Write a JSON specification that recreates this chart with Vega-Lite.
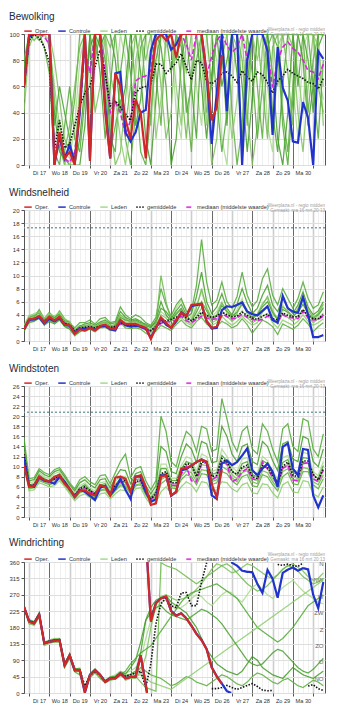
{
"$schema":"https://vega.github.io/schema/vega-lite/v6.json",
"padding":{"left":8,"top":11,"right":5,"bottom":5},
"bounds":"flush",
"config":{"font":"Liberation Sans","view":{"stroke":"#555","strokeWidth":1},
"axis":{"labelFont":"Liberation Sans","labelColor":"#333","tickColor":"#555","domainColor":"#555","tickSize":3,"labelPadding":2,"tickCount":100,"labelOverlap":false},
"axisX":{"labelFontSize":5.6},"axisY":{"labelFontSize":6,"format":"d"},
"legend":{"symbolType":"stroke","symbolSize":56,"symbolStrokeWidth":1.8,"labelFontSize":5.7,"labelColor":"#333","columnPadding":5,"labelOffset":2,"padding":0,"labelFont":"Liberation Sans"},
"title":{"anchor":"start","frame":"group","dx":-15,"fontSize":10,"fontWeight":"normal","color":"#1c2a3a","offset":0,"font":"Liberation Sans"}},
"spacing":45,
"resolve":{"scale":{"color":"independent","strokeDash":"independent","x":"independent","y":"independent"},"legend":{"color":"independent","strokeDash":"independent"}},
"datasets":{
"bw":[
{"t":-6,"o":60,"c":60,"g":59,"d":60,"A":55,"B":70,"C":60,"D":40,"E":75,"F":50,"G":65,"H":80},
{"t":0,"o":100,"c":98,"g":95,"d":97,"A":100,"B":95,"C":100,"D":90,"E":100,"F":100,"G":100,"H":100},
{"t":6,"o":100,"c":100,"g":100,"d":100,"A":100,"B":100,"C":100,"D":100,"E":100,"F":100,"G":100,"H":95},
{"t":12,"o":100,"c":100,"g":97,"d":100,"A":100,"B":100,"C":100,"D":100,"E":95,"F":100,"G":100,"H":100},
{"t":18,"o":100,"c":100,"g":90,"d":98,"A":100,"B":90,"C":100,"D":100,"E":100,"F":100,"G":100,"H":100},
{"t":24,"o":100,"c":100,"g":78,"d":92,"A":95,"B":70,"C":100,"D":100,"E":100,"F":90,"G":100,"H":100},
{"t":30,"o":0,"c":0,"g":12,"d":10,"A":20,"B":5,"C":40,"D":80,"E":10,"F":60,"G":30,"H":50},
{"t":36,"o":25,"c":22,"g":34,"d":20,"A":35,"B":15,"C":10,"D":50,"E":0,"F":30,"G":60,"H":20},
{"t":42,"o":5,"c":5,"g":13,"d":5,"A":10,"B":0,"C":5,"D":20,"E":30,"F":0,"G":40,"H":10},
{"t":48,"o":10,"c":15,"g":16,"d":2,"A":5,"B":20,"C":0,"D":10,"E":60,"F":0,"G":20,"H":30},
{"t":54,"o":0,"c":2,"g":30,"d":10,"A":30,"B":50,"C":0,"D":5,"E":20,"F":10,"G":0,"H":60},
{"t":60,"o":45,"c":40,"g":45,"d":40,"A":80,"B":100,"C":20,"D":40,"E":10,"F":60,"G":0,"H":90},
{"t":66,"o":100,"c":100,"g":55,"d":90,"A":100,"B":100,"C":60,"D":100,"E":50,"F":90,"G":30,"H":100},
{"t":72,"o":3,"c":5,"g":60,"d":70,"A":60,"B":100,"C":90,"D":100,"E":100,"F":40,"G":100,"H":100},
{"t":78,"o":100,"c":100,"g":75,"d":100,"A":100,"B":80,"C":100,"D":40,"E":100,"F":100,"G":100,"H":100},
{"t":84,"o":100,"c":100,"g":88,"d":100,"A":100,"B":100,"C":90,"D":60,"E":100,"F":100,"G":70,"H":100},
{"t":90,"o":40,"c":45,"g":70,"d":70,"A":90,"B":60,"C":100,"D":100,"E":80,"F":100,"G":20,"H":100},
{"t":96,"o":5,"c":5,"g":45,"d":40,"A":40,"B":10,"C":100,"D":30,"E":20,"F":70,"G":60,"H":90},
{"t":102,"o":70,"c":70,"g":49,"d":48,"A":60,"B":30,"C":80,"D":0,"E":10,"F":50,"G":100,"H":100},
{"t":108,"o":60,"c":71,"g":44,"d":40,"A":100,"B":50,"C":40,"D":10,"E":70,"F":20,"G":100,"H":60},
{"t":114,"o":35,"c":25,"g":39,"d":23,"A":80,"B":20,"C":60,"D":50,"E":100,"F":0,"G":100,"H":30},
{"t":120,"o":20,"c":18,"g":34,"d":34,"A":30,"B":0,"C":100,"D":90,"E":100,"F":30,"G":70,"H":60},
{"t":126,"o":50,"c":25,"g":55,"d":64,"A":70,"B":40,"C":100,"D":100,"E":60,"F":80,"G":30,"H":100},
{"t":132,"o":40,"c":40,"g":59,"d":67,"A":100,"B":90,"C":70,"D":100,"E":10,"F":100,"G":50,"H":100},
{"t":138,"o":5,"c":42,"g":60,"d":68,"A":100,"B":100,"C":20,"D":80,"E":0,"F":100,"G":100,"H":60},
{"t":144,"o":65,"c":87,"g":62,"d":72,"A":60,"B":100,"C":0,"D":100,"E":40,"F":100,"G":100,"H":30},
{"t":150,"o":95,"c":100,"g":77,"d":100,"A":100,"B":70,"C":50,"D":100,"E":80,"F":20,"G":100,"H":100},
{"t":156,"o":100,"c":100,"g":77,"d":100,"A":100,"B":30,"C":100,"D":60,"E":100,"F":50,"G":90,"H":100},
{"t":162,"o":95,"c":100,"g":70,"d":96,"A":90,"B":100,"C":100,"D":20,"E":100,"F":100,"G":60,"H":100},
{"t":168,"o":100,"c":88,"g":74,"d":100,"A":100,"B":100,"C":100,"D":40,"E":70,"F":100,"G":0,"H":100},
{"t":174,"o":82,"c":92,"g":78,"d":100,"A":40,"B":100,"C":80,"D":100,"E":100,"F":60,"G":20,"H":100},
{"t":180,"o":100,"c":100,"g":85,"d":100,"A":20,"B":90,"C":100,"D":100,"E":100,"F":30,"G":80,"H":60},
{"t":186,"o":100,"c":100,"g":75,"d":92,"A":100,"B":50,"C":100,"D":70,"E":40,"F":100,"G":100,"H":20},
{"t":192,"o":100,"c":100,"g":65,"d":80,"A":100,"B":10,"C":100,"D":100,"E":60,"F":100,"G":60,"H":70},
{"t":198,"o":100,"c":100,"g":80,"d":100,"A":60,"B":80,"C":100,"D":100,"E":100,"F":100,"G":20,"H":100},
{"t":204,"o":100,"c":100,"g":78,"d":100,"A":30,"B":100,"C":60,"D":100,"E":100,"F":80,"G":100,"H":100},
{"t":210,"o":70,"c":70,"g":64,"d":68,"A":100,"B":100,"C":20,"D":60,"E":100,"F":30,"G":100,"H":40},
{"t":216,"o":34,"c":16,"g":62,"d":83,"A":100,"B":60,"C":70,"D":0,"E":100,"F":100,"G":100,"H":60},
{"t":222,"o":44,"c":55,"g":65,"d":95,"A":80,"B":100,"C":100,"D":20,"E":50,"F":100,"G":100,"H":100},
{"t":228,"o":84,"c":100,"g":70,"d":100,"A":20,"B":100,"C":90,"D":80,"E":10,"F":100,"G":60,"H":100},
{"t":234,"c":41,"g":71,"d":91,"A":0,"B":100,"C":30,"D":100,"E":40,"F":60,"G":80,"H":100},
{"t":240,"c":100,"g":68,"d":86,"A":60,"B":40,"C":100,"D":100,"E":100,"F":20,"G":100,"H":100},
{"t":246,"c":100,"g":63,"d":90,"A":100,"B":0,"C":100,"D":90,"E":100,"F":50,"G":70,"H":100},
{"t":252,"c":0,"g":72,"d":100,"A":100,"B":30,"C":60,"D":100,"E":100,"F":100,"G":20,"H":80},
{"t":258,"c":80,"g":67,"d":80,"A":90,"B":100,"C":10,"D":40,"E":100,"F":100,"G":60,"H":30},
{"t":264,"c":100,"g":64,"d":100,"A":40,"B":100,"C":50,"D":0,"E":70,"F":100,"G":100,"H":100},
{"t":270,"c":100,"g":71,"d":100,"A":100,"B":60,"C":100,"D":30,"E":20,"F":80,"G":100,"H":100},
{"t":276,"c":100,"g":69,"d":100,"A":100,"B":20,"C":100,"D":90,"E":60,"F":100,"G":100,"H":60},
{"t":282,"c":87,"g":63,"d":87,"A":30,"B":90,"C":100,"D":100,"E":100,"F":60,"G":100,"H":20},
{"t":288,"c":23,"g":55,"d":59,"A":10,"B":100,"C":70,"D":100,"E":100,"F":30,"G":40,"H":90},
{"t":294,"c":90,"g":64,"d":80,"A":80,"B":100,"C":20,"D":60,"E":90,"F":90,"G":10,"H":100},
{"t":300,"c":59,"g":68,"d":90,"A":100,"B":40,"C":0,"D":100,"E":30,"F":100,"G":60,"H":100},
{"t":306,"c":49,"g":73,"d":94,"A":100,"B":10,"C":40,"D":100,"E":0,"F":100,"G":100,"H":70},
{"t":312,"c":18,"g":70,"d":89,"A":60,"B":60,"C":100,"D":90,"E":50,"F":100,"G":100,"H":30},
{"t":318,"c":17,"g":68,"d":86,"A":20,"B":100,"C":100,"D":40,"E":100,"F":70,"G":60,"H":100},
{"t":324,"c":48,"g":66,"d":80,"A":90,"B":100,"C":80,"D":10,"E":100,"F":40,"G":100,"H":100},
{"t":330,"c":36,"g":63,"d":72,"A":100,"B":40,"C":30,"D":60,"E":100,"F":100,"G":80,"H":100},
{"t":336,"c":0,"g":62,"d":71,"A":100,"B":80,"C":60,"D":100,"E":60,"F":100,"G":40,"H":100},
{"t":342,"c":87,"g":58,"d":66,"A":70,"B":100,"C":90,"D":100,"E":20,"F":90,"G":100,"H":60},
{"t":348,"c":81,"g":66,"d":77,"A":50,"B":100,"C":100,"D":30,"E":80,"F":60,"G":100,"H":40}
],
"ws":[
{"t":-6,"o":1.8,"c":1.8,"g":1.8,"d":1.8,"A":2.0,"B":1.6,"C":2.2,"D":1.9,"E":1.7,"F":2.4,"G":1.5,"H":2.1},
{"t":0,"o":3.3,"c":3.2,"g":3.3,"d":3.3,"A":3.8,"B":3.0,"C":3.6,"D":3.4,"E":3.2,"F":3.9,"G":2.8,"H":3.5},
{"t":6,"o":3.4,"c":3.3,"g":3.4,"d":3.4,"A":4.2,"B":3.1,"C":3.9,"D":3.5,"E":3.6,"F":4.0,"G":3.0,"H":3.8},
{"t":12,"o":3.8,"c":3.6,"g":3.7,"d":3.7,"A":4.5,"B":3.4,"C":4.3,"D":3.9,"E":4.8,"F":4.4,"G":3.6,"H":4.0},
{"t":18,"o":2.8,"c":2.7,"g":3.0,"d":3.0,"A":3.2,"B":2.5,"C":3.2,"D":2.9,"E":3.4,"F":3.5,"G":2.4,"H":3.0},
{"t":24,"o":3.7,"c":3.4,"g":3.5,"d":3.5,"A":4.0,"B":3.2,"C":3.9,"D":3.6,"E":4.4,"F":4.2,"G":3.0,"H":3.8},
{"t":30,"o":3.1,"c":3.0,"g":3.2,"d":3.2,"A":3.5,"B":2.8,"C":3.6,"D":3.2,"E":3.4,"F":3.8,"G":2.6,"H":3.4},
{"t":36,"o":3.7,"c":3.5,"g":3.6,"d":3.6,"A":4.2,"B":3.3,"C":4.1,"D":3.8,"E":4.6,"F":4.4,"G":3.2,"H":4.0},
{"t":42,"o":2.5,"c":2.5,"g":2.7,"d":2.7,"A":3.0,"B":2.3,"C":3.1,"D":2.8,"E":3.4,"F":3.3,"G":2.2,"H":2.9},
{"t":48,"o":2.4,"c":2.3,"g":2.5,"d":2.5,"A":2.6,"B":2.0,"C":2.9,"D":2.4,"E":2.8,"F":3.0,"G":1.8,"H":2.6},
{"t":54,"o":1.1,"c":1.2,"g":1.5,"d":1.5,"A":1.8,"B":1.0,"C":1.6,"D":1.4,"E":2.0,"F":1.2,"G":0.8,"H":1.5},
{"t":60,"o":1.8,"c":1.9,"g":2.0,"d":2.0,"A":2.4,"B":1.6,"C":2.3,"D":2.0,"E":2.8,"F":1.8,"G":1.4,"H":2.2},
{"t":66,"o":1.6,"c":1.8,"g":2.1,"d":2.0,"A":2.2,"B":1.5,"C":2.6,"D":2.4,"E":2.8,"F":2.0,"G":1.8,"H":2.3},
{"t":72,"o":2.0,"c":2.0,"g":2.2,"d":2.1,"A":2.6,"B":1.8,"C":2.8,"D":2.5,"E":3.2,"F":2.3,"G":2.0,"H":2.4},
{"t":78,"o":1.6,"c":1.7,"g":2.0,"d":1.9,"A":2.0,"B":1.4,"C":2.4,"D":2.2,"E":2.6,"F":1.9,"G":1.6,"H":2.1},
{"t":84,"o":2.3,"c":2.2,"g":2.3,"d":2.2,"A":2.8,"B":2.0,"C":2.9,"D":2.6,"E":3.4,"F":2.5,"G":2.2,"H":2.7},
{"t":90,"o":2.5,"c":2.3,"g":2.4,"d":2.3,"A":3.0,"B":2.1,"C":3.2,"D":2.8,"E":3.6,"F":2.6,"G":2.4,"H":2.9},
{"t":96,"o":1.9,"c":1.8,"g":2.1,"d":2.0,"A":2.3,"B":1.6,"C":2.6,"D":2.4,"E":2.8,"F":2.0,"G":1.8,"H":2.2},
{"t":102,"o":1.8,"c":1.6,"g":2.2,"d":2.1,"A":2.5,"B":1.7,"C":2.8,"D":2.0,"E":3.0,"F":2.2,"G":2.4,"H":2.6},
{"t":108,"o":3.2,"c":3.1,"g":2.8,"d":2.6,"A":3.8,"B":2.8,"C":4.5,"D":3.0,"E":5.2,"F":3.4,"G":3.6,"H":4.0},
{"t":114,"o":2.6,"c":2.4,"g":2.5,"d":2.4,"A":3.0,"B":2.0,"C":3.6,"D":2.5,"E":4.0,"F":2.8,"G":3.2,"H":3.4},
{"t":120,"o":2.6,"c":2.2,"g":2.4,"d":2.3,"A":2.8,"B":1.9,"C":3.2,"D":2.6,"E":3.4,"F":2.4,"G":3.0,"H":2.9},
{"t":126,"o":2.6,"c":2.3,"g":2.5,"d":2.4,"A":3.2,"B":2.0,"C":3.4,"D":2.8,"E":4.0,"F":2.6,"G":3.2,"H":3.0},
{"t":132,"o":2.3,"c":2.2,"g":2.2,"d":2.1,"A":2.6,"B":1.8,"C":3.0,"D":2.5,"E":3.6,"F":2.1,"G":2.8,"H":2.7},
{"t":138,"o":2.0,"c":1.9,"g":1.8,"d":1.7,"A":2.0,"B":1.2,"C":2.4,"D":2.2,"E":2.8,"F":1.6,"G":2.6,"H":2.3},
{"t":144,"o":0.3,"c":0.5,"g":1.6,"d":1.5,"A":1.5,"B":0.8,"C":2.0,"D":1.6,"E":2.4,"F":1.2,"G":2.2,"H":1.4},
{"t":150,"o":2.0,"c":2.0,"g":2.2,"d":2.0,"A":3.0,"B":1.5,"C":3.2,"D":2.4,"E":3.6,"F":2.0,"G":2.8,"H":2.6},
{"t":156,"o":3.6,"c":3.4,"g":2.9,"d":2.7,"A":4.5,"B":2.4,"C":6.0,"D":4.0,"E":8.0,"F":3.2,"G":5.0,"H":10.0},
{"t":162,"o":2.8,"c":2.5,"g":3.1,"d":2.9,"A":3.8,"B":2.0,"C":4.0,"D":3.5,"E":5.5,"F":2.8,"G":4.5,"H":6.0},
{"t":168,"o":2.0,"c":2.0,"g":3.3,"d":3.0,"A":3.2,"B":1.6,"C":3.0,"D":2.4,"E":3.8,"F":2.0,"G":3.4,"H":3.0},
{"t":174,"o":3.2,"c":3.0,"g":3.6,"d":3.2,"A":5.0,"B":2.5,"C":4.2,"D":3.5,"E":5.5,"F":2.8,"G":4.6,"H":4.0},
{"t":180,"o":4.3,"c":4.4,"g":4.2,"d":3.8,"A":6.2,"B":3.2,"C":5.0,"D":4.2,"E":6.5,"F":3.6,"G":5.6,"H":4.8},
{"t":186,"o":3.8,"c":3.8,"g":3.5,"d":3.1,"A":4.8,"B":2.4,"C":3.6,"D":3.2,"E":4.5,"F":2.8,"G":4.0,"H":3.4},
{"t":192,"o":5.5,"c":5.3,"g":3.1,"d":2.8,"A":3.5,"B":2.0,"C":4.2,"D":2.6,"E":4.6,"F":2.4,"G":3.0,"H":3.2},
{"t":198,"o":5.6,"c":5.5,"g":3.6,"d":3.3,"A":5.5,"B":3.0,"C":6.8,"D":3.8,"E":8.5,"F":3.4,"G":4.4,"H":5.0},
{"t":204,"o":5.7,"c":5.6,"g":4.4,"d":3.8,"A":7.5,"B":3.6,"C":10.5,"D":5.0,"E":15.5,"F":4.2,"G":6.0,"H":8.0},
{"t":210,"o":3.0,"c":3.0,"g":3.9,"d":3.5,"A":5.2,"B":2.6,"C":6.0,"D":4.0,"E":9.0,"F":3.2,"G":4.6,"H":5.0},
{"t":216,"o":2.0,"c":1.9,"g":3.6,"d":3.3,"A":3.6,"B":2.0,"C":4.2,"D":2.8,"E":5.5,"F":2.4,"G":3.2,"H":3.4},
{"t":222,"o":2.2,"c":2.0,"g":3.8,"d":3.4,"A":4.5,"B":2.2,"C":5.2,"D":3.2,"E":6.2,"F":2.8,"G":3.8,"H":4.0},
{"t":228,"o":4.0,"c":4.7,"g":4.4,"d":4.2,"A":6.0,"B":3.0,"C":7.2,"D":4.6,"E":9.0,"F":3.8,"G":5.4,"H":5.8},
{"t":234,"c":5.3,"g":4.0,"d":3.7,"A":4.2,"B":2.6,"C":5.0,"D":3.8,"E":6.0,"F":3.0,"G":4.5,"H":4.6},
{"t":240,"c":5.2,"g":3.7,"d":3.4,"A":3.5,"B":2.0,"C":4.0,"D":3.0,"E":5.0,"F":2.4,"G":3.8,"H":3.2},
{"t":246,"c":5.5,"g":3.8,"d":3.5,"A":4.8,"B":2.4,"C":5.6,"D":3.6,"E":6.8,"F":3.0,"G":4.4,"H":4.2},
{"t":252,"c":5.9,"g":4.4,"d":4.1,"A":6.5,"B":3.4,"C":8.0,"D":4.6,"E":10.5,"F":3.8,"G":5.6,"H":6.0},
{"t":258,"c":4.5,"g":3.9,"d":3.6,"A":4.0,"B":2.5,"C":5.8,"D":3.6,"E":7.0,"F":3.0,"G":4.4,"H":4.6},
{"t":264,"c":4.1,"g":3.5,"d":3.3,"A":3.2,"B":1.2,"C":4.2,"D":2.8,"E":5.2,"F":2.4,"G":3.6,"H":3.4},
{"t":270,"c":3.9,"g":3.3,"d":3.1,"A":4.2,"B":2.2,"C":5.0,"D":3.2,"E":6.2,"F":2.8,"G":4.0,"H":4.0},
{"t":276,"c":4.6,"g":3.8,"d":3.3,"A":5.8,"B":3.2,"C":7.0,"D":4.4,"E":9.5,"F":3.8,"G":5.2,"H":5.5},
{"t":282,"c":5.3,"g":4.1,"d":3.8,"A":6.5,"B":2.8,"C":8.5,"D":5.2,"E":11.0,"F":4.2,"G":6.0,"H":6.8},
{"t":288,"c":3.2,"g":3.4,"d":3.2,"A":4.0,"B":2.2,"C":5.5,"D":3.5,"E":7.0,"F":2.8,"G":4.4,"H":4.6},
{"t":294,"c":2.8,"g":3.2,"d":3.0,"A":3.5,"B":1.0,"C":4.5,"D":2.6,"E":5.5,"F":2.0,"G":3.2,"H":3.4},
{"t":300,"c":6.9,"g":4.3,"d":4.0,"A":5.5,"B":2.6,"C":6.5,"D":4.2,"E":8.0,"F":3.2,"G":4.8,"H":5.2},
{"t":306,"c":5.0,"g":3.9,"d":3.6,"A":4.2,"B":2.2,"C":5.0,"D":3.6,"E":6.5,"F":2.8,"G":4.4,"H":4.6},
{"t":312,"c":4.5,"g":3.7,"d":3.5,"A":3.6,"B":1.8,"C":4.2,"D":3.0,"E":5.0,"F":2.4,"G":3.8,"H":3.6},
{"t":318,"c":4.3,"g":3.7,"d":3.4,"A":4.8,"B":2.4,"C":5.5,"D":3.8,"E":6.5,"F":3.0,"G":4.4,"H":5.0},
{"t":324,"c":6.7,"g":4.8,"d":4.5,"A":6.2,"B":3.4,"C":7.5,"D":4.8,"E":9.0,"F":4.0,"G":5.6,"H":6.8},
{"t":330,"c":4.0,"g":3.8,"d":3.5,"A":4.5,"B":2.6,"C":5.2,"D":3.6,"E":6.5,"F":3.0,"G":4.2,"H":4.8},
{"t":336,"c":0.6,"g":3.4,"d":3.2,"A":3.0,"B":1.4,"C":4.0,"D":2.8,"E":5.0,"F":2.4,"G":3.4,"H":3.6},
{"t":342,"c":0.6,"g":3.4,"d":3.3,"A":3.8,"B":2.2,"C":4.6,"D":3.4,"E":5.5,"F":2.8,"G":4.0,"H":4.2},
{"t":348,"c":0.9,"g":4.0,"d":3.8,"A":5.2,"B":2.8,"C":6.0,"D":4.2,"E":7.5,"F":3.4,"G":5.0,"H":5.6}
],
"wg":[
{"t":-6,"o":10.3,"c":11.6,"g":12.5,"d":12.0,"A":13.0,"B":11.0,"C":14.5,"D":12.0,"E":15.8,"F":10.5,"G":12.8,"H":11.5},
{"t":0,"o":6.0,"c":6.2,"g":6.2,"d":6.2,"A":6.8,"B":5.6,"C":7.2,"D":6.0,"E":7.6,"F":5.2,"G":6.4,"H":5.8},
{"t":6,"o":6.2,"c":6.0,"g":6.4,"d":6.3,"A":7.0,"B":5.8,"C":7.4,"D":6.2,"E":7.8,"F":5.4,"G":6.6,"H":6.0},
{"t":12,"o":8.0,"c":7.8,"g":8.0,"d":8.0,"A":8.8,"B":7.2,"C":9.2,"D":7.6,"E":9.6,"F":6.8,"G":8.4,"H":7.4},
{"t":18,"o":7.3,"c":7.2,"g":7.4,"d":7.3,"A":8.0,"B":6.8,"C":8.4,"D":7.2,"E":8.8,"F":6.4,"G":7.6,"H":7.0},
{"t":24,"o":7.0,"c":7.0,"g":7.0,"d":7.0,"A":7.6,"B":6.4,"C":8.0,"D":6.8,"E":8.4,"F":6.0,"G":7.2,"H":6.6},
{"t":30,"o":8.0,"c":6.6,"g":7.6,"d":7.5,"A":8.6,"B":6.8,"C":9.0,"D":7.4,"E":9.4,"F":6.2,"G":8.0,"H":7.0},
{"t":36,"o":8.3,"c":8.0,"g":8.3,"d":8.2,"A":9.0,"B":7.6,"C":9.4,"D":8.0,"E":9.8,"F":7.2,"G":8.6,"H":7.8},
{"t":42,"o":6.6,"c":7.0,"g":7.0,"d":6.9,"A":7.6,"B":6.4,"C":8.0,"D":6.8,"E":8.4,"F":6.0,"G":7.2,"H":6.6},
{"t":48,"o":5.6,"c":5.6,"g":5.5,"d":5.5,"A":6.0,"B":5.0,"C":6.4,"D":5.4,"E":6.8,"F":4.6,"G":5.6,"H":5.2},
{"t":54,"o":4.0,"c":4.0,"g":4.3,"d":4.2,"A":4.8,"B":3.6,"C":5.2,"D":4.2,"E":5.6,"F":3.2,"G":4.4,"H":3.9},
{"t":60,"o":5.3,"c":5.4,"g":5.6,"d":5.5,"A":6.2,"B":4.8,"C":6.8,"D":5.4,"E":7.4,"F":4.2,"G":5.8,"H":5.0},
{"t":66,"o":5.3,"c":5.0,"g":6.0,"d":5.8,"A":6.8,"B":5.2,"C":7.4,"D":5.8,"E":8.0,"F":4.6,"G":6.4,"H":5.4},
{"t":72,"o":4.6,"c":4.2,"g":5.2,"d":5.0,"A":5.8,"B":4.4,"C":6.4,"D":5.0,"E":7.0,"F":3.8,"G":5.4,"H":4.6},
{"t":78,"o":4.3,"c":3.4,"g":4.6,"d":4.5,"A":5.2,"B":3.8,"C":5.8,"D":4.4,"E":6.4,"F":3.2,"G":4.8,"H":4.0},
{"t":84,"o":6.3,"c":5.8,"g":6.0,"d":5.9,"A":6.8,"B":5.2,"C":7.4,"D":5.8,"E":8.2,"F":4.6,"G":6.4,"H":5.4},
{"t":90,"o":6.0,"c":6.2,"g":6.2,"d":6.1,"A":7.0,"B":5.4,"C":7.6,"D":6.0,"E":8.4,"F":4.8,"G":6.6,"H":5.6},
{"t":96,"o":4.3,"c":4.4,"g":4.6,"d":4.5,"A":5.2,"B":4.0,"C":5.8,"D":4.4,"E":6.6,"F":3.6,"G":4.8,"H":4.2},
{"t":102,"o":7.8,"c":5.6,"g":6.2,"d":6.0,"A":7.0,"B":5.2,"C":7.8,"D":5.8,"E":8.8,"F":4.6,"G":6.4,"H":5.4},
{"t":108,"o":8.0,"c":7.6,"g":7.2,"d":7.0,"A":8.2,"B":6.2,"C":9.4,"D":7.0,"E":11.0,"F":5.4,"G":7.6,"H":6.6},
{"t":114,"o":7.6,"c":5.4,"g":7.2,"d":7.0,"A":8.0,"B":6.0,"C":9.2,"D":6.8,"E":12.5,"F":5.2,"G":7.4,"H":6.4},
{"t":120,"o":5.0,"c":3.6,"g":5.3,"d":5.2,"A":5.8,"B":4.6,"C":6.6,"D":5.0,"E":7.8,"F":4.0,"G":5.4,"H":4.8},
{"t":126,"o":8.0,"c":8.0,"g":7.0,"d":6.9,"A":7.8,"B":6.2,"C":8.6,"D":6.8,"E":9.6,"F":5.6,"G":7.4,"H":6.4},
{"t":132,"o":8.3,"c":8.0,"g":7.3,"d":7.2,"A":8.2,"B":6.4,"C":9.0,"D":7.0,"E":10.0,"F":5.8,"G":7.6,"H":6.6},
{"t":138,"o":6.0,"c":5.0,"g":5.0,"d":4.9,"A":5.6,"B":4.4,"C":6.2,"D":4.8,"E":7.2,"F":3.8,"G":5.2,"H":4.6},
{"t":144,"o":2.4,"c":3.0,"g":3.6,"d":3.5,"A":4.0,"B":3.0,"C":4.6,"D":3.4,"E":5.4,"F":2.4,"G":3.8,"H":3.2},
{"t":150,"o":2.7,"c":3.5,"g":4.6,"d":4.4,"A":5.4,"B":3.6,"C":6.2,"D":4.4,"E":7.2,"F":2.8,"G":5.0,"H":4.0},
{"t":156,"o":8.0,"c":8.2,"g":8.6,"d":8.2,"A":10.5,"B":6.6,"C":14.0,"D":8.4,"E":20.0,"F":5.0,"G":9.6,"H":7.4},
{"t":162,"o":8.3,"c":8.4,"g":9.0,"d":8.5,"A":10.5,"B":7.4,"C":13.0,"D":8.8,"E":17.0,"F":6.0,"G":9.6,"H":8.0},
{"t":168,"o":4.3,"c":4.2,"g":6.8,"d":6.3,"A":7.6,"B":5.8,"C":9.0,"D":6.6,"E":11.0,"F":4.6,"G":7.2,"H":6.2},
{"t":174,"o":5.0,"c":5.0,"g":6.8,"d":6.3,"A":7.6,"B":5.6,"C":8.6,"D":6.6,"E":10.0,"F":4.6,"G":7.2,"H":6.0},
{"t":180,"o":9.6,"c":9.3,"g":9.0,"d":8.5,"A":10.2,"B":7.4,"C":12.0,"D":8.8,"E":14.0,"F":6.0,"G":9.6,"H":8.0},
{"t":186,"o":9.7,"c":9.5,"g":10.6,"d":10.0,"A":12.0,"B":8.4,"C":14.5,"D":10.2,"E":17.0,"F":7.0,"G":11.0,"H":9.2},
{"t":192,"o":10.2,"c":10.2,"g":10.4,"d":7.2,"A":11.5,"B":8.0,"C":13.5,"D":9.8,"E":16.0,"F":6.4,"G":10.6,"H":8.8},
{"t":198,"o":10.9,"c":10.9,"g":8.0,"d":7.0,"A":9.0,"B":6.4,"C":10.8,"D":7.6,"E":13.0,"F":5.0,"G":8.4,"H":7.0},
{"t":204,"o":11.4,"c":11.4,"g":10.9,"d":10.5,"A":12.5,"B":8.6,"C":15.0,"D":10.4,"E":18.0,"F":7.0,"G":11.5,"H":9.4},
{"t":210,"o":11.0,"c":10.9,"g":10.9,"d":10.8,"A":12.0,"B":8.4,"C":14.5,"D":10.2,"E":17.5,"F":6.8,"G":11.0,"H":9.2},
{"t":216,"o":6.5,"c":4.3,"g":8.0,"d":7.3,"A":9.0,"B":6.4,"C":10.8,"D":7.6,"E":13.0,"F":5.0,"G":8.4,"H":7.0},
{"t":222,"o":3.9,"c":3.6,"g":8.3,"d":8.0,"A":9.4,"B":6.8,"C":11.0,"D":8.0,"E":13.5,"F":5.4,"G":8.8,"H":7.4},
{"t":228,"o":9.5,"c":10.6,"g":11.6,"d":11.0,"A":13.5,"B":9.0,"C":18.0,"D":11.0,"E":23.5,"F":7.0,"G":12.2,"H":10.0},
{"t":234,"c":11.2,"g":10.9,"d":10.5,"A":12.0,"B":8.6,"C":16.0,"D":10.4,"E":19.5,"F":6.8,"G":11.2,"H":9.4},
{"t":240,"c":10.3,"g":9.0,"d":7.0,"A":10.0,"B":7.2,"C":12.5,"D":8.4,"E":15.0,"F":5.6,"G":9.2,"H":7.8},
{"t":246,"c":10.9,"g":8.5,"d":7.5,"A":9.0,"B":6.4,"C":11.0,"D":7.6,"E":13.0,"F":5.0,"G":8.2,"H":7.0},
{"t":252,"c":12.2,"g":9.9,"d":9.0,"A":11.5,"B":8.0,"C":14.0,"D":9.6,"E":17.0,"F":6.4,"G":10.6,"H":8.8},
{"t":258,"c":13.6,"g":10.3,"d":9.6,"A":11.8,"B":8.4,"C":14.5,"D":10.0,"E":18.0,"F":6.8,"G":11.0,"H":9.2},
{"t":264,"c":9.3,"g":8.0,"d":7.6,"A":9.0,"B":6.2,"C":11.0,"D":7.6,"E":13.5,"F":4.8,"G":8.4,"H":7.0},
{"t":270,"c":8.3,"g":7.6,"d":7.3,"A":8.6,"B":6.0,"C":10.4,"D":7.2,"E":12.5,"F":4.6,"G":8.0,"H":6.6},
{"t":276,"c":9.6,"g":10.2,"d":10.9,"A":12.0,"B":8.4,"C":15.0,"D":10.2,"E":18.5,"F":6.6,"G":11.2,"H":9.2},
{"t":282,"c":10.6,"g":9.9,"d":9.5,"A":11.2,"B":8.0,"C":14.0,"D":9.6,"E":17.0,"F":6.4,"G":10.6,"H":8.8},
{"t":288,"c":9.0,"g":8.3,"d":8.0,"A":9.0,"B":6.4,"C":11.2,"D":7.6,"E":13.5,"F":4.8,"G":8.4,"H":7.0},
{"t":294,"c":6.0,"g":6.6,"d":6.6,"A":7.6,"B":5.2,"C":9.2,"D":6.4,"E":11.0,"F":3.8,"G":7.0,"H":5.8},
{"t":300,"c":13.9,"g":10.0,"d":9.6,"A":11.8,"B":8.0,"C":14.5,"D":9.8,"E":17.5,"F":6.4,"G":10.8,"H":9.0},
{"t":306,"c":14.6,"g":10.9,"d":10.3,"A":12.2,"B":8.8,"C":15.0,"D":10.4,"E":18.5,"F":7.0,"G":11.4,"H":9.6},
{"t":312,"c":9.6,"g":8.3,"d":7.3,"A":9.4,"B":6.6,"C":11.5,"D":8.0,"E":14.0,"F":5.0,"G":8.8,"H":7.4},
{"t":318,"c":8.3,"g":8.0,"d":7.3,"A":9.0,"B":6.4,"C":11.0,"D":7.6,"E":13.0,"F":4.8,"G":8.4,"H":7.0},
{"t":324,"c":13.5,"g":11.1,"d":10.6,"A":12.8,"B":9.0,"C":16.0,"D":10.8,"E":19.5,"F":7.2,"G":11.8,"H":9.8},
{"t":330,"c":13.3,"g":11.1,"d":10.8,"A":12.6,"B":9.0,"C":15.5,"D":10.6,"E":19.0,"F":7.0,"G":11.6,"H":9.6},
{"t":336,"c":4.3,"g":8.5,"d":7.6,"A":9.0,"B":6.4,"C":11.0,"D":7.6,"E":13.5,"F":4.6,"G":8.4,"H":7.0},
{"t":342,"c":1.9,"g":7.3,"d":7.0,"A":8.2,"B":5.6,"C":10.0,"D":7.0,"E":12.0,"F":4.0,"G":7.6,"H":6.4},
{"t":348,"c":4.3,"g":9.6,"d":9.3,"A":11.0,"B":7.6,"C":13.5,"D":9.2,"E":16.5,"F":6.0,"G":10.2,"H":8.4}
],
"wr":[
{"t":-6,"o":237,"c":237,"g":237,"A":237,"B":237,"C":237,"D":237,"E":237,"F":237,"G":237,"H":237},
{"t":0,"o":196,"c":197,"g":198,"A":200,"B":190,"C":198,"D":195,"E":202,"F":193,"G":199,"H":197},
{"t":6,"o":191,"c":192,"g":192,"A":195,"B":188,"C":192,"D":190,"E":196,"F":185,"G":194,"H":189},
{"t":12,"o":215,"c":216,"g":215,"A":222,"B":208,"C":214,"D":216,"E":218,"F":210,"G":220,"H":212},
{"t":18,"o":136,"c":137,"g":137,"A":140,"B":132,"C":135,"D":138,"E":134,"F":130,"G":137,"H":139},
{"t":24,"o":141,"c":141,"g":142,"A":146,"B":138,"C":142,"D":140,"E":144,"F":136,"G":145,"H":139},
{"t":30,"o":143,"c":144,"g":145,"A":150,"B":140,"C":146,"D":144,"E":148,"F":140,"G":147,"H":141},
{"t":36,"o":145,"c":146,"g":146,"A":150,"B":140,"C":146,"D":148,"E":143,"F":142,"G":149,"H":146},
{"t":42,"o":76,"c":77,"g":78,"A":85,"B":70,"C":80,"D":78,"E":72,"F":74,"G":82,"H":77},
{"t":48,"o":104,"c":103,"g":102,"A":100,"B":95,"C":108,"D":102,"E":98,"F":100,"G":106,"H":103},
{"t":54,"o":63,"c":62,"g":64,"A":70,"B":58,"C":66,"D":62,"E":60,"F":65,"G":68,"H":64},
{"t":60,"o":63,"c":62,"g":62,"A":55,"B":50,"C":68,"D":60,"E":65,"F":58,"G":62,"H":61},
{"t":66,"o":3,"c":0,"g":20,"A":15,"B":10,"C":8,"D":4,"E":12,"F":6,"G":10,"H":2},
{"t":72,"o":49,"c":50,"g":48,"A":45,"B":42,"C":52,"D":48,"E":50,"F":46,"G":52,"H":47},
{"t":78,"o":63,"c":63,"g":60,"A":58,"B":55,"C":66,"D":62,"E":60,"F":60,"G":64,"H":63},
{"t":84,"o":49,"c":50,"g":48,"A":45,"B":40,"C":52,"D":50,"E":48,"F":46,"G":51,"H":49},
{"t":90,"o":30,"c":31,"g":32,"A":35,"B":28,"C":34,"D":30,"E":32,"F":28,"G":33,"H":31},
{"t":96,"o":40,"c":40,"g":40,"A":45,"B":35,"C":44,"D":38,"E":42,"F":36,"G":43,"H":39},
{"t":102,"o":40,"c":41,"g":42,"A":50,"B":38,"C":46,"D":42,"E":38,"F":40,"G":44,"H":41},
{"t":108,"o":53,"c":53,"g":54,"A":60,"B":48,"C":58,"D":55,"E":50,"F":52,"G":56,"H":54},
{"t":114,"o":40,"c":41,"g":46,"A":55,"B":45,"C":52,"D":35,"E":60,"F":42,"G":48,"H":38},
{"t":120,"o":44,"c":44,"g":50,"A":60,"B":50,"C":70,"D":40,"E":80,"F":46,"G":52,"H":42},
{"t":126,"o":44,"c":45,"g":55,"A":70,"B":55,"C":90,"D":40,"E":95,"F":48,"G":60,"H":46},
{"t":132,"o":104,"c":103,"g":60,"A":90,"B":70,"C":140,"D":60,"E":110,"F":50,"G":110,"H":30},
{"t":138,"o":21,"c":25,"g":15,"A":150,"B":60,"C":200,"D":100,"E":120,"F":40,"G":200,"H":15},
{"t":139.5,"o":0,"c":0},
{"t":139.7,"o":null,"c":null},
{"t":139.9,"o":360,"c":360},
{"t":144,"o":196,"c":200,"g":80,"A":200,"B":50,"C":235,"D":180,"E":130,"F":30,"G":220,"H":10},
{"t":150,"o":247,"c":248,"g":190,"A":230,"B":45,"C":255,"D":240,"E":150,"F":25,"G":235,"H":5},
{"t":156,"o":260,"c":260,"g":245,"A":250,"B":40,"C":262,"D":265,"E":170,"F":20,"G":240,"H":358},
{"t":162,"o":265,"c":264,"g":262,"A":255,"B":30,"C":268,"D":270,"E":190,"F":15,"G":225,"H":350},
{"t":168,"o":225,"c":226,"g":240,"A":240,"B":20,"C":250,"D":262,"E":210,"F":10,"G":215,"H":345},
{"t":174,"o":212,"c":213,"g":235,"A":230,"B":25,"C":240,"D":255,"E":230,"F":20,"G":210,"H":340},
{"t":180,"o":219,"c":219,"g":275,"A":235,"B":35,"C":230,"D":258,"E":250,"F":30,"G":205,"H":330},
{"t":186,"o":205,"c":205,"g":276,"A":245,"B":45,"C":220,"D":262,"E":265,"F":40,"G":200,"H":320},
{"t":192,"o":185,"c":185,"g":240,"A":260,"B":40,"C":200,"D":270,"E":275,"F":50,"G":210,"H":310},
{"t":198,"o":162,"c":163,"g":240,"A":270,"B":30,"C":180,"D":285,"E":280,"F":60,"G":220,"H":300},
{"t":204,"o":145,"c":146,"g":305,"A":265,"B":25,"C":150,"D":300,"E":285,"F":70,"G":230,"H":310},
{"t":210,"o":120,"c":121,"g":358,"A":250,"B":20,"C":120,"D":320,"E":290,"F":80,"G":225,"H":320},
{"t":213,"g":null},
{"t":216,"o":70,"c":71,"g":12,"A":240,"B":30,"C":100,"D":340,"E":295,"F":90,"G":215,"H":330},
{"t":222,"o":45,"c":46,"g":12,"A":255,"B":40,"C":80,"D":355,"E":300,"F":100,"G":205,"H":340},
{"t":228,"o":25,"c":26,"g":15,"A":270,"B":50,"C":70,"D":350,"E":290,"F":110,"G":190,"H":350},
{"t":234,"c":5,"g":21,"A":280,"B":45,"C":60,"D":340,"E":280,"F":120,"G":170,"H":355},
{"t":239,"c":0},
{"t":239.5,"c":null},
{"t":239.8,"c":360},
{"t":240,"c":358,"g":15,"A":275,"B":35,"C":55,"D":330,"E":270,"F":130,"G":150,"H":345},
{"t":246,"c":350,"g":10,"A":260,"B":25,"C":50,"D":335,"E":260,"F":140,"G":130,"H":330},
{"t":252,"c":336,"g":15,"A":250,"B":20,"C":60,"D":345,"E":240,"F":150,"G":110,"H":315},
{"t":258,"c":333,"g":21,"A":270,"B":30,"C":80,"D":355,"E":220,"F":160,"G":90,"H":300},
{"t":264,"c":332,"g":26,"A":290,"B":45,"C":100,"D":350,"E":200,"F":170,"G":80,"H":290},
{"t":270,"c":300,"g":18,"A":300,"B":55,"C":90,"D":340,"E":180,"F":180,"G":75,"H":280},
{"t":276,"c":275,"g":8,"A":285,"B":50,"C":70,"D":330,"E":170,"F":190,"G":80,"H":285},
{"t":282,"c":338,"g":6,"A":270,"B":40,"C":60,"D":320,"E":160,"F":200,"G":95,"H":295},
{"t":288,"c":314,"g":7,"A":260,"B":30,"C":50,"D":315,"E":150,"F":210,"G":110,"H":310},
{"t":291,"g":null},
{"t":294,"c":262,"g":353,"A":275,"B":25,"C":45,"D":325,"E":140,"F":220,"G":120,"H":325},
{"t":300,"c":330,"g":351,"A":290,"B":35,"C":40,"D":340,"E":150,"F":230,"G":115,"H":340},
{"t":306,"c":339,"g":354,"A":300,"B":40,"C":55,"D":350,"E":165,"F":240,"G":100,"H":350},
{"t":312,"c":345,"g":350,"A":310,"B":30,"C":70,"D":355,"E":180,"F":250,"G":85,"H":345},
{"t":318,"c":336,"g":348,"A":295,"B":20,"C":60,"D":345,"E":200,"F":260,"G":70,"H":335},
{"t":324,"c":343,"g":357,"A":280,"B":15,"C":50,"D":335,"E":220,"F":270,"G":60,"H":320},
{"t":327,"g":null},
{"t":330,"c":340,"g":19,"A":270,"B":25,"C":45,"D":320,"E":240,"F":280,"G":55,"H":310},
{"t":336,"c":270,"g":23,"A":260,"B":35,"C":40,"D":310,"E":250,"F":290,"G":65,"H":300},
{"t":342,"c":233,"g":12,"A":250,"B":30,"C":50,"D":315,"E":260,"F":300,"G":80,"H":305},
{"t":348,"c":305,"g":7,"A":245,"B":20,"C":60,"D":330,"E":270,"F":310,"G":95,"H":315}
]
},
"vconcat":[
{"title":{"text":"Bewolking"},"width":301,"height":131,
"layer":[
{"data":{"name":"bw"},"transform":[{"fold":["A","B","C","D","E","F","G","H"],"as":["s","v"]},{"filter":"isValid(datum.v)"}],
"mark":{"type":"line","strokeWidth":1.25,"opacity":0.85,"clip":true},
"encoding":{
"x":{"field":"t","type":"quantitative","scale":{"domain":[-6,350],"nice":false,"zero":false},"axis":{"title":null,"values":[0,6,12,18,24,30,36,42,48,54,60,66,72,78,84,90,96,102,108,114,120,126,132,138,144,150,156,162,168,174,180,186,192,198,204,210,216,222,228,234,240,246,252,258,264,270,276,282,288,294,300,306,312,318,324,330,336,342,348],"labelExpr":"datum.value % 24 == 0 && datum.value < 330 ? ['Di','Wo','Do','Vr','Za','Zo','Ma'][(datum.value/24)%7] + ' ' + (17+datum.value/24) : ''","labelOffset":10,"labelBound":false,"labelFlush":false,"domain":false,"tickColor":{"condition":{"test":"datum.value % 24 == 0","value":"#555"},"value":"transparent"},"gridColor":{"condition":[{"test":"datum.value % 48 == 24","value":"#6a6a6a"},{"test":"datum.value % 24 == 0","value":"#cdcdcd"}],"value":"#f0f0f0"},"gridWidth":{"condition":{"test":"datum.value % 48 == 0","value":1.6},"value":1}}},
"y":{"field":"v","type":"quantitative","scale":{"domain":[0,100],"nice":false},"axis":{"title":null,"values":[0,20,40,60,80,100],"gridColor":"#dedede"}},
"color":{"field":"s","type":"nominal","scale":{"domain":["o","c","A","g","d","B","C","D","E","F","G","H"],"range":["#d02828","#2233cc","#a9d88e","#111111","#dd22dd","#5aab3a","#3f9a25","#7cc05a","#4ea832","#8ccb6c","#469f2b","#6bb84a"]},"legend":{"orient":"none","legendX":-1,"legendY":-8,"direction":"horizontal","title":null,"values":["o","c","A","g","d"],"labelExpr":"datum.value=='o'?'Oper.':datum.value=='c'?'Controle':datum.value=='A'?'Leden':datum.value=='g'?'gemiddelde':'mediaan (middelste waarde)'"}},
"strokeDash":{"field":"s","type":"nominal","scale":{"domain":["o","c","A","g","d","B","C","D","E","F","G","H"],"range":[[1,0],[1,0],[1,0],[1.5,1.5],[5,2.5],[1,0],[1,0],[1,0],[1,0],[1,0],[1,0],[1,0]]},"legend":{"orient":"none","legendX":-1,"legendY":-8,"direction":"horizontal","title":null,"values":["o","c","A","g","d"],"labelExpr":"datum.value=='o'?'Oper.':datum.value=='c'?'Controle':datum.value=='A'?'Leden':datum.value=='g'?'gemiddelde':'mediaan (middelste waarde)'"}}}},
{"data":{"name":"bw"},"transform":[{"fold":["d","g"],"as":["s","v"]},{"filter":"isDefined(datum.v)"}],"mark":{"type":"line","strokeWidth":1.6,"clip":true,"invalid":"break-paths-show-domains"},"encoding":{"x":{"field":"t","type":"quantitative"},"y":{"field":"v","type":"quantitative"},"color":{"field":"s","type":"nominal"},"strokeDash":{"field":"s","type":"nominal"}}},
{"data":{"name":"bw"},"transform":[{"fold":["c","o"],"as":["s","v"]},{"filter":"isDefined(datum.v)"}],"mark":{"type":"line","strokeWidth":2.2,"clip":true,"invalid":"break-paths-show-domains"},"encoding":{"x":{"field":"t","type":"quantitative"},"y":{"field":"v","type":"quantitative"},"color":{"field":"s","type":"nominal"},"strokeDash":{"field":"s","type":"nominal"}}},
{"data":{"values":[{"src":["Weerplaza.nl - regio midden","Gemaakt: ma 16 mrt 20:13"]}]},"mark":{"type":"text","align":"right","baseline":"bottom","fontSize":4.6,"color":"#a0a0a0","dy":-2,"lineHeight":5.2},"encoding":{"text":{"field":"src"},"x":{"datum":350},"y":{"datum":100}}}
]},
{"title":{"text":"Windsnelheid"},"width":301,"height":131,
"layer":[
{"data":{"name":"ws"},"transform":[{"fold":["A","B","C","D","E","F","G","H"],"as":["s","v"]},{"filter":"isValid(datum.v)"}],
"mark":{"type":"line","strokeWidth":1.25,"opacity":0.85,"clip":true},
"encoding":{
"x":{"field":"t","type":"quantitative","scale":{"domain":[-6,350],"nice":false,"zero":false},"axis":{"title":null,"values":[0,6,12,18,24,30,36,42,48,54,60,66,72,78,84,90,96,102,108,114,120,126,132,138,144,150,156,162,168,174,180,186,192,198,204,210,216,222,228,234,240,246,252,258,264,270,276,282,288,294,300,306,312,318,324,330,336,342,348],"labelExpr":"datum.value % 24 == 0 && datum.value < 330 ? ['Di','Wo','Do','Vr','Za','Zo','Ma'][(datum.value/24)%7] + ' ' + (17+datum.value/24) : ''","labelOffset":10,"labelBound":false,"labelFlush":false,"domain":false,"tickColor":{"condition":{"test":"datum.value % 24 == 0","value":"#555"},"value":"transparent"},"gridColor":{"condition":[{"test":"datum.value % 48 == 24","value":"#6a6a6a"},{"test":"datum.value % 24 == 0","value":"#cdcdcd"}],"value":"#f0f0f0"},"gridWidth":{"condition":{"test":"datum.value % 48 == 0","value":1.6},"value":1}}},
"y":{"field":"v","type":"quantitative","scale":{"domain":[0,20],"nice":false},"axis":{"title":null,"values":[0,2,4,6,8,10,12,14,16,18,20],"gridColor":"#dedede"}},
"color":{"field":"s","type":"nominal","scale":{"domain":["o","c","A","g","d","B","C","D","E","F","G","H"],"range":["#d02828","#2233cc","#a9d88e","#111111","#dd22dd","#5aab3a","#3f9a25","#7cc05a","#4ea832","#8ccb6c","#469f2b","#6bb84a"]},"legend":{"orient":"none","legendX":-1,"legendY":-8,"direction":"horizontal","title":null,"values":["o","c","A","g","d"],"labelExpr":"datum.value=='o'?'Oper.':datum.value=='c'?'Controle':datum.value=='A'?'Leden':datum.value=='g'?'gemiddelde':'mediaan (middelste waarde)'"}},
"strokeDash":{"field":"s","type":"nominal","scale":{"domain":["o","c","A","g","d","B","C","D","E","F","G","H"],"range":[[1,0],[1,0],[1,0],[1.5,1.5],[5,2.5],[1,0],[1,0],[1,0],[1,0],[1,0],[1,0],[1,0]]},"legend":{"orient":"none","legendX":-1,"legendY":-8,"direction":"horizontal","title":null,"values":["o","c","A","g","d"],"labelExpr":"datum.value=='o'?'Oper.':datum.value=='c'?'Controle':datum.value=='A'?'Leden':datum.value=='g'?'gemiddelde':'mediaan (middelste waarde)'"}}}},
{"data":{"values":[{"y":17.3}]},"mark":{"type":"rule","color":"#7d9eab","strokeDash":[2,2],"strokeWidth":1.5},"encoding":{"y":{"field":"y","type":"quantitative"}}},
{"data":{"name":"ws"},"transform":[{"fold":["d","g"],"as":["s","v"]},{"filter":"isDefined(datum.v)"}],"mark":{"type":"line","strokeWidth":1.6,"clip":true,"invalid":"break-paths-show-domains"},"encoding":{"x":{"field":"t","type":"quantitative"},"y":{"field":"v","type":"quantitative"},"color":{"field":"s","type":"nominal"},"strokeDash":{"field":"s","type":"nominal"}}},
{"data":{"name":"ws"},"transform":[{"fold":["c","o"],"as":["s","v"]},{"filter":"isDefined(datum.v)"}],"mark":{"type":"line","strokeWidth":2.2,"clip":true,"invalid":"break-paths-show-domains"},"encoding":{"x":{"field":"t","type":"quantitative"},"y":{"field":"v","type":"quantitative"},"color":{"field":"s","type":"nominal"},"strokeDash":{"field":"s","type":"nominal"}}},
{"data":{"values":[{"src":["Weerplaza.nl - regio midden","Gemaakt: ma 16 mrt 20:13"]}]},"mark":{"type":"text","align":"right","baseline":"bottom","fontSize":4.6,"color":"#a0a0a0","dy":-2,"lineHeight":5.2},"encoding":{"text":{"field":"src"},"x":{"datum":350},"y":{"datum":20}}}
]},
{"title":{"text":"Windstoten"},"width":301,"height":131,
"layer":[
{"data":{"name":"wg"},"transform":[{"fold":["A","B","C","D","E","F","G","H"],"as":["s","v"]},{"filter":"isValid(datum.v)"}],
"mark":{"type":"line","strokeWidth":1.25,"opacity":0.85,"clip":true},
"encoding":{
"x":{"field":"t","type":"quantitative","scale":{"domain":[-6,350],"nice":false,"zero":false},"axis":{"title":null,"values":[0,6,12,18,24,30,36,42,48,54,60,66,72,78,84,90,96,102,108,114,120,126,132,138,144,150,156,162,168,174,180,186,192,198,204,210,216,222,228,234,240,246,252,258,264,270,276,282,288,294,300,306,312,318,324,330,336,342,348],"labelExpr":"datum.value % 24 == 0 && datum.value < 330 ? ['Di','Wo','Do','Vr','Za','Zo','Ma'][(datum.value/24)%7] + ' ' + (17+datum.value/24) : ''","labelOffset":10,"labelBound":false,"labelFlush":false,"domain":false,"tickColor":{"condition":{"test":"datum.value % 24 == 0","value":"#555"},"value":"transparent"},"gridColor":{"condition":[{"test":"datum.value % 48 == 24","value":"#6a6a6a"},{"test":"datum.value % 24 == 0","value":"#cdcdcd"}],"value":"#f0f0f0"},"gridWidth":{"condition":{"test":"datum.value % 48 == 0","value":1.6},"value":1}}},
"y":{"field":"v","type":"quantitative","scale":{"domain":[0,26],"nice":false},"axis":{"title":null,"values":[0,2,4,6,8,10,12,14,16,18,20,22,24,26],"gridColor":"#dedede"}},
"color":{"field":"s","type":"nominal","scale":{"domain":["o","c","A","g","d","B","C","D","E","F","G","H"],"range":["#d02828","#2233cc","#a9d88e","#111111","#dd22dd","#5aab3a","#3f9a25","#7cc05a","#4ea832","#8ccb6c","#469f2b","#6bb84a"]},"legend":{"orient":"none","legendX":-1,"legendY":-8,"direction":"horizontal","title":null,"values":["o","c","A","g","d"],"labelExpr":"datum.value=='o'?'Oper.':datum.value=='c'?'Controle':datum.value=='A'?'Leden':datum.value=='g'?'gemiddelde':'mediaan (middelste waarde)'"}},
"strokeDash":{"field":"s","type":"nominal","scale":{"domain":["o","c","A","g","d","B","C","D","E","F","G","H"],"range":[[1,0],[1,0],[1,0],[1.5,1.5],[5,2.5],[1,0],[1,0],[1,0],[1,0],[1,0],[1,0],[1,0]]},"legend":{"orient":"none","legendX":-1,"legendY":-8,"direction":"horizontal","title":null,"values":["o","c","A","g","d"],"labelExpr":"datum.value=='o'?'Oper.':datum.value=='c'?'Controle':datum.value=='A'?'Leden':datum.value=='g'?'gemiddelde':'mediaan (middelste waarde)'"}}}},
{"data":{"values":[{"y":20.8}]},"mark":{"type":"rule","color":"#7d9eab","strokeDash":[2,2],"strokeWidth":1.5},"encoding":{"y":{"field":"y","type":"quantitative"}}},
{"data":{"name":"wg"},"transform":[{"fold":["d","g"],"as":["s","v"]},{"filter":"isDefined(datum.v)"}],"mark":{"type":"line","strokeWidth":1.6,"clip":true,"invalid":"break-paths-show-domains"},"encoding":{"x":{"field":"t","type":"quantitative"},"y":{"field":"v","type":"quantitative"},"color":{"field":"s","type":"nominal"},"strokeDash":{"field":"s","type":"nominal"}}},
{"data":{"name":"wg"},"transform":[{"fold":["c","o"],"as":["s","v"]},{"filter":"isDefined(datum.v)"}],"mark":{"type":"line","strokeWidth":2.2,"clip":true,"invalid":"break-paths-show-domains"},"encoding":{"x":{"field":"t","type":"quantitative"},"y":{"field":"v","type":"quantitative"},"color":{"field":"s","type":"nominal"},"strokeDash":{"field":"s","type":"nominal"}}},
{"data":{"values":[{"src":["Weerplaza.nl - regio midden","Gemaakt: ma 16 mrt 20:13"]}]},"mark":{"type":"text","align":"right","baseline":"bottom","fontSize":4.6,"color":"#a0a0a0","dy":-2,"lineHeight":5.2},"encoding":{"text":{"field":"src"},"x":{"datum":350},"y":{"datum":26}}}
]},
{"title":{"text":"Windrichting"},"width":301,"height":131,
"resolve":{"scale":{"y":"independent"}},
"layer":[
{"layer":[
{"data":{"name":"wr"},"transform":[{"fold":["A","B","C","D","E","F","G","H"],"as":["s","v"]},{"filter":"isValid(datum.v)"}],
"mark":{"type":"line","strokeWidth":1.25,"opacity":0.85,"clip":true},
"encoding":{
"x":{"field":"t","type":"quantitative","scale":{"domain":[-6,350],"nice":false,"zero":false},"axis":{"title":null,"values":[0,6,12,18,24,30,36,42,48,54,60,66,72,78,84,90,96,102,108,114,120,126,132,138,144,150,156,162,168,174,180,186,192,198,204,210,216,222,228,234,240,246,252,258,264,270,276,282,288,294,300,306,312,318,324,330,336,342,348],"labelExpr":"datum.value % 24 == 0 && datum.value < 330 ? ['Di','Wo','Do','Vr','Za','Zo','Ma'][(datum.value/24)%7] + ' ' + (17+datum.value/24) : ''","labelOffset":10,"labelBound":false,"labelFlush":false,"domain":false,"tickColor":{"condition":{"test":"datum.value % 24 == 0","value":"#555"},"value":"transparent"},"gridColor":{"condition":[{"test":"datum.value % 48 == 24","value":"#6a6a6a"},{"test":"datum.value % 24 == 0","value":"#cdcdcd"}],"value":"#f0f0f0"},"gridWidth":{"condition":{"test":"datum.value % 48 == 0","value":1.6},"value":1}}},
"y":{"field":"v","type":"quantitative","scale":{"domain":[0,360],"nice":false},"axis":{"title":null,"values":[0,45,90,135,180,225,270,315,360],"gridColor":"#dedede"}},
"color":{"field":"s","type":"nominal","scale":{"domain":["o","c","A","g","d","B","C","D","E","F","G","H"],"range":["#d02828","#2233cc","#a9d88e","#111111","#dd22dd","#5aab3a","#3f9a25","#7cc05a","#4ea832","#8ccb6c","#469f2b","#6bb84a"]},"legend":{"orient":"none","legendX":-1,"legendY":-8,"direction":"horizontal","title":null,"values":["o","c","A","g","d"],"labelExpr":"datum.value=='o'?'Oper.':datum.value=='c'?'Controle':datum.value=='A'?'Leden':datum.value=='g'?'gemiddelde':'mediaan (middelste waarde)'"}},
"strokeDash":{"field":"s","type":"nominal","scale":{"domain":["o","c","A","g","d","B","C","D","E","F","G","H"],"range":[[1,0],[1,0],[1,0],[1.5,1.5],[5,2.5],[1,0],[1,0],[1,0],[1,0],[1,0],[1,0],[1,0]]},"legend":{"orient":"none","legendX":-1,"legendY":-8,"direction":"horizontal","title":null,"values":["o","c","A","g","d"],"labelExpr":"datum.value=='o'?'Oper.':datum.value=='c'?'Controle':datum.value=='A'?'Leden':datum.value=='g'?'gemiddelde':'mediaan (middelste waarde)'"}}}},
{"data":{"name":"wr"},"transform":[{"fold":["d","g"],"as":["s","v"]},{"filter":"isDefined(datum.v)"}],"mark":{"type":"line","strokeWidth":1.6,"clip":true,"invalid":"break-paths-show-domains"},"encoding":{"x":{"field":"t","type":"quantitative"},"y":{"field":"v","type":"quantitative"},"color":{"field":"s","type":"nominal"},"strokeDash":{"field":"s","type":"nominal"}}},
{"data":{"name":"wr"},"transform":[{"fold":["c","o"],"as":["s","v"]},{"filter":"isDefined(datum.v)"}],"mark":{"type":"line","strokeWidth":2.2,"clip":true,"invalid":"break-paths-show-domains"},"encoding":{"x":{"field":"t","type":"quantitative"},"y":{"field":"v","type":"quantitative"},"color":{"field":"s","type":"nominal"},"strokeDash":{"field":"s","type":"nominal"}}}
]},
{"data":{"values":[{"src":["Weerplaza.nl - regio midden","Gemaakt: ma 16 mrt 20:13"]}]},"mark":{"type":"text","align":"right","baseline":"bottom","fontSize":4.6,"color":"#a0a0a0","dy":-5,"lineHeight":5.2},"encoding":{"text":{"field":"src"},"x":{"datum":350},"y":{"datum":360,"scale":{"domain":[0,360],"nice":false},"axis":{"orient":"right","title":null,"values":[45,90,135,180,225,270,315,360],"labelExpr":"datum.value==360?'N':datum.value==315?'NW':datum.value==270?'W':datum.value==225?'ZW':datum.value==180?'Z':datum.value==135?'ZO':datum.value==90?'O':'NO'","tickSize":0,"labelPadding":-2,"labelAlign":"right","labelOffset":1.5,"domain":false,"grid":false,"labelColor":"#666"}}}}
]},
{"title":{"text":"Windkracht (bft)"},"width":301,"height":131,
"layer":[
{"data":{"name":"ws"},"transform":[{"fold":["d","g","c","o"],"as":["s","v"]},{"filter":"isDefined(datum.v)"}],"mark":{"type":"line","strokeWidth":1.6,"clip":true},"encoding":{"x":{"field":"t","type":"quantitative","scale":{"domain":[-6,350],"nice":false},"axis":null},"y":{"field":"v","type":"quantitative","scale":{"domain":[0,20],"nice":false},"axis":null},"color":{"field":"s","type":"nominal","legend":null,"scale":{"domain":["o","c","g","d"],"range":["#d02828","#2233cc","#111111","#dd22dd"]}}}}
]}
]
}
